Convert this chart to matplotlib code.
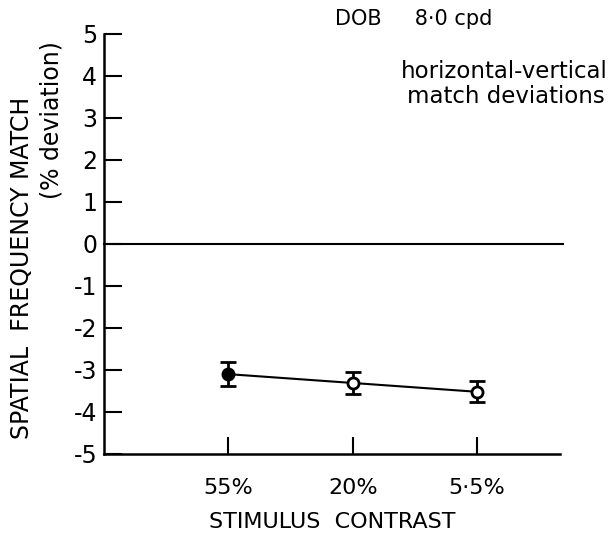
import numpy as np
import matplotlib
matplotlib.use("Agg")
import matplotlib.pyplot as plt

# Data
contrast_labels = ["55%", "20%", "5·5%"]
x_pos = [1, 2, 3]
deviation = [-3.1, -3.31, -3.52]
err = [0.28, 0.27, 0.25]
filled = [True, False, False]

plt.rcParams['font.family'] = ['DejaVu Sans']

fig = plt.figure(figsize=(6.09, 5.36), dpi=100)
ax = fig.add_axes([0.171, 0.153, 0.749, 0.784])

ax.plot(x_pos, deviation, 'k-', lw=1.5, zorder=2)
ax.errorbar(x_pos, deviation, yerr=err, fmt='none', ecolor='k',
            elinewidth=2, capsize=6, capthick=2, zorder=3)
for x, y, f in zip(x_pos, deviation, filled):
    ax.plot(x, y, 'o', ms=8, mew=2, mec='k',
            mfc='k' if f else 'white', zorder=4)

ax.axhline(0, color='k', lw=1.5, xmin=0, xmax=1.005, clip_on=False)

ax.set_xlim(0, 3.67)
ax.set_ylim(-5, 5)
ax.set_yticks(range(-5, 6))
ax.set_yticklabels([str(v) for v in range(-5, 6)])
ax.set_xticks(x_pos)
ax.set_xticklabels(contrast_labels)

ax.spines['top'].set_visible(False)
ax.spines['right'].set_visible(False)
ax.spines['left'].set_linewidth(1.8)
ax.spines['bottom'].set_linewidth(1.8)

ax.tick_params(axis='y', direction='in', length=13, width=1.5,
               labelsize=17, pad=5)
ax.tick_params(axis='x', direction='in', length=12, width=1.5,
               labelsize=16, pad=17)

fig.text(0.545, 0.026, "STIMULUS  CONTRAST", fontsize=16,
         ha='center', va='center')
fig.text(0.036, 0.5, "SPATIAL  FREQUENCY MATCH", rotation=90,
         fontsize=17, ha='center', va='center')
fig.text(0.084, 0.776, "(% deviation)", rotation=90,
         fontsize=17, ha='center', va='center')

fig.text(0.55, 0.965, "DOB     8·0 cpd", fontsize=15, ha='left', va='center')
fig.text(0.997, 0.866, "horizontal-vertical", fontsize=16.5, ha='right', va='center')
fig.text(0.993, 0.82, "match deviations", fontsize=16.5, ha='right', va='center')

fig.savefig("out.png", dpi=100)
